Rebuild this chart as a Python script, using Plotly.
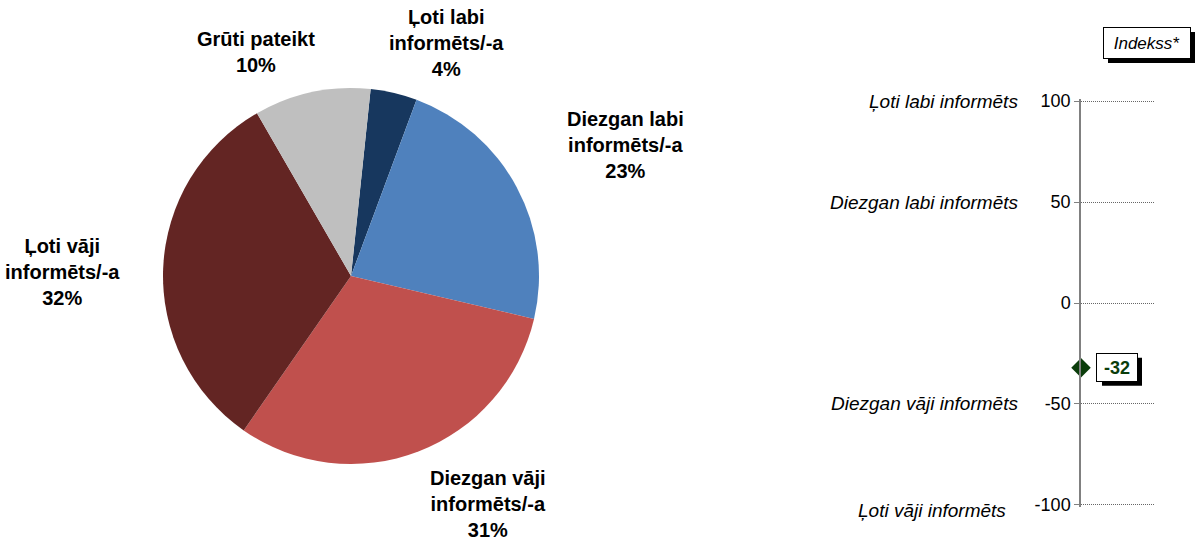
import plotly.graph_objects as go

# Survey answers and their shares (%)
categories = ["Ļoti labi\ninformēts/-a", "Diezgan labi\ninformēts/-a",
              "Diezgan vāji\ninformēts/-a", "Ļoti vāji\ninformēts/-a", "Grūti pateikt"]
shares = [4, 23, 31, 32, 10]
slice_colors = ["#17375E", "#4F81BD", "#C0504D", "#632523", "#BFBFBF"]

# Index scale
scale_ticks = [100, 50, 0, -50, -100]
scale_names = ["Ļoti labi informēts", "Diezgan labi informēts", "",
               "Diezgan vāji informēts", "Ļoti vāji informēts"]
index_value = -32

W, H = 1198, 541
FONT = "Liberation Sans, Arial, sans-serif"
GREEN = "#0B3D0B"


def px(x):
    return x / W


def py(y):
    return 1 - y / H


fig = go.Figure()

fig.add_trace(go.Pie(
    values=shares,
    labels=[c.replace("\n", " ") for c in categories],
    marker=dict(colors=slice_colors, line=dict(width=0)),
    sort=False,
    direction="clockwise",
    rotation=6,
    textinfo="none",
    hoverinfo="label+percent",
    showlegend=False,
    domain=dict(x=[px(163), px(539)], y=[py(464), py(88)]),
))

# Slice labels
label_pos = [(446, 43), (625, 145), (488, 504), (62, 272), (256, 52)]
for cat, val, (lx, ly) in zip(categories, shares, label_pos):
    fig.add_annotation(
        x=px(lx), y=py(ly), xref="paper", yref="paper",
        text="<b>" + cat.replace("\n", "<br>") + f"<br>{val}%</b>",
        showarrow=False, xanchor="center", yanchor="middle",
        font=dict(family=FONT, size=20, color="black"),
    )

# Index scale panel
fig.add_trace(go.Scatter(
    x=[0], y=[index_value], xaxis="x2", yaxis="y2",
    mode="markers", cliponaxis=False, showlegend=False,
    marker=dict(symbol="diamond", size=15, color=GREEN),
    hoverinfo="y",
))

fig.update_layout(
    width=W, height=H,
    margin=dict(l=0, r=0, t=0, b=0, pad=0, autoexpand=False),
    paper_bgcolor="white", plot_bgcolor="white",
    xaxis2=dict(domain=[px(1081), px(1155)], range=[0, 1], anchor="y2",
                showgrid=False, zeroline=False, showticklabels=False,
                showline=False, ticks="", automargin=False),
    yaxis2=dict(domain=[py(506.6), py(99.4)], range=[-100.8, 100.8], anchor="x2",
                tickvals=scale_ticks, ticktext=[str(t) for t in scale_ticks],
                showgrid=True, gridcolor="#666666", griddash="1px,1px", gridwidth=1,
                zeroline=False, showline=True, linecolor="#808080", linewidth=1.5,
                ticks="outside", ticklen=5, tickcolor="#808080", automargin=False,
                tickfont=dict(family=FONT, size=18, color="black")),
    font=dict(family=FONT),
)

# Scale descriptions to the left of the tick values
for t, name in zip(scale_ticks, scale_names):
    if not name:
        continue
    shift = -6 if t == -100 else 0
    xr = 1008 if t == -100 else 1020
    fig.add_annotation(
        x=px(xr), y=t, xref="paper", yref="y2", yshift=shift,
        text=name, showarrow=False, xanchor="right", yanchor="middle",
        font=dict(family=FONT, size=19, color="black", style="italic"),
    )

# Value box with drop shadow next to the marker
fig.add_shape(type="rect", xref="x2", yref="y2",
              xsizemode="pixel", ysizemode="pixel",
              xanchor=0, yanchor=index_value,
              x0=21, x1=61, y0=-18, y1=10,
              fillcolor="black", line=dict(width=0), layer="above")
fig.add_annotation(
    x=0, y=index_value, xref="x2", yref="y2", xshift=15, xanchor="left",
    yanchor="middle", showarrow=False, text=f"<b>{index_value}</b>",
    font=dict(family=FONT, size=18, color=GREEN),
    width=36, height=23, borderpad=2,
    bgcolor="white", bordercolor="black", borderwidth=1,
)

# Caption box with drop shadow
fig.add_shape(type="rect", xref="paper", yref="paper",
              x0=px(1108), x1=px(1195), y0=py(63), y1=py(32),
              fillcolor="black", line=dict(width=0), layer="above")
fig.add_annotation(
    x=px(1146.5), y=py(42.5), xref="paper", yref="paper",
    text="Indekss*", showarrow=False, xanchor="center", yanchor="middle",
    font=dict(family=FONT, size=17, color="black", style="italic"),
    width=82, height=26, borderpad=2,
    bgcolor="white", bordercolor="black", borderwidth=1,
)

fig.write_html("out.html")
